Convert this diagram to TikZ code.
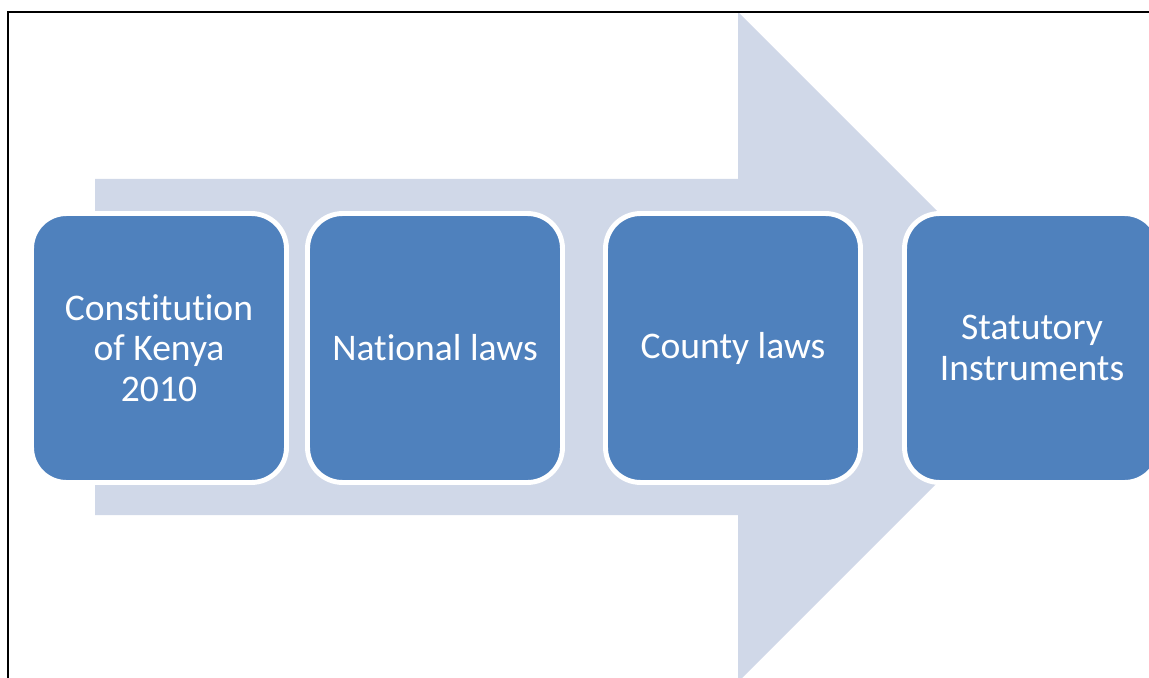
\documentclass[tikz,border=0pt]{standalone}
\usepackage{fontspec}
\setmainfont[Ligatures=NoCommon]{Carlito}
\usepackage{tikz}
\usetikzlibrary{positioning}
\usepackage{xcolor}

\definecolor{lawblue}{RGB}{79,129,189}
\definecolor{arrowgrey}{RGB}{208,216,232}

\tikzset{
  lawbox/.style={draw=white, line width=2.8pt, fill=lawblue, rounded corners=0.7cm,
    minimum width=5.1cm, minimum height=5.38cm, text=white, align=center,
    font=\fontsize{21.4}{23}\selectfont, inner sep=0pt},
}

\begin{document}
\begin{tikzpicture}[x=0.02cm, y=0.02cm]
\def\Wd{1149}
\def\Ht{677}
\def\Mid{330}
\useasboundingbox (0,0) rectangle (\Wd,\Ht);
\clip (0,0) rectangle (\Wd,\Ht);

% big arrow behind the boxes
\fill[arrowgrey] (95,\Mid+168) -- (738,\Mid+168) -- (738,665)
  -- (1073,\Mid) -- (738,-5) -- (738,\Mid-168) -- (95,\Mid-168) -- cycle;

% the four levels
\node[lawbox] (constitution) at (159,\Mid-1) {Constitution\\of Kenya\\2010};
\node[lawbox] (national) at (435,\Mid-1) {National laws};
\node[lawbox] (county) at (733,\Mid-1) {County laws};
\node[lawbox] (statutory) at (1032,\Mid-1) {Statutory\\Instruments};

% page frame
\draw[line width=0.8pt] (8,-20) -- (8,665) -- (\Wd+20,665);
\end{tikzpicture}
\end{document}
